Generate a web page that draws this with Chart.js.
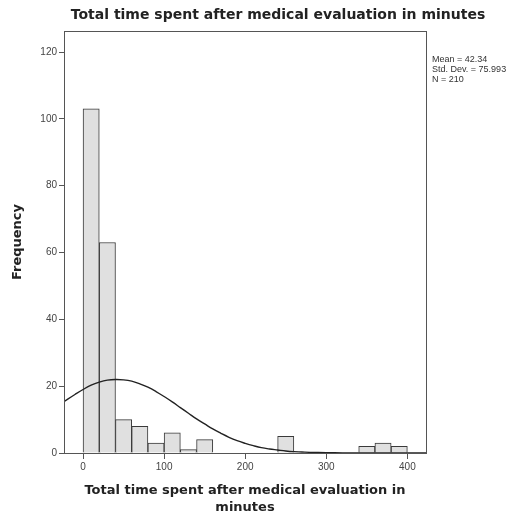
<!DOCTYPE html>
<html>
<head>
<meta charset="utf-8">
<script src="https://cdn.jsdelivr.net/npm/chart.js@4/dist/chart.umd.min.js"></script>
<style>
  body { margin: 0; background: #fff; }
  canvas { display: block; }
</style>
</head>
<body>
<canvas id="histChart" width="532" height="520"></canvas>
<script>
// histogram bins (width 20), centers and counts
const binCenters = [10, 30, 50, 70, 90, 110, 130, 150, 170, 190, 210, 230, 250, 270, 290, 310, 330, 350, 370, 390];
const binCounts = [103, 63, 10, 8, 3, 6, 1, 4, null, null, null, null, 5, null, null, null, null, 2, 3, 2];

// normal curve
const curveX = [-24, -10, 0, 10, 20, 30, 40, 50, 60, 70, 80, 90, 100, 110, 120, 130, 140, 150, 160, 170, 180, 190, 200, 210, 220, 230, 240, 250, 260, 270, 280, 300, 320, 340, 360, 380, 400, 423];
const curveY = [15.3, 17.5, 19.0, 20.3, 21.2, 21.8, 22.0, 21.9, 21.5, 20.7, 19.7, 18.4, 16.9, 15.3, 13.6, 11.9, 10.2, 8.7, 7.2, 5.9, 4.7, 3.7, 2.9, 2.2, 1.6, 1.2, 0.9, 0.6, 0.4, 0.3, 0.2, 0.1, 0.03, 0.01, 0, 0, 0, 0];

const xTicks = [0, 100, 200, 300, 400];
const yTicks = [0, 20, 40, 60, 80, 100, 120];
const chartTitle = "Total time spent after medical evaluation in minutes";
const statsLines = ["Mean = 42.34", "Std. Dev. = 75.993", "N = 210"];

const frameAndText = {
    id: "frameAndText",
    afterDraw(chart) {
        const { ctx, chartArea } = chart;
        ctx.save();
        ctx.strokeStyle = "#555";
        ctx.lineWidth = 1;
        ctx.strokeRect(chartArea.left + 0.5, chartArea.top + 0.5,
            chartArea.right - chartArea.left, chartArea.bottom - chartArea.top);

        ctx.fillStyle = "#222";
        ctx.font = "bold 14px 'DejaVu Sans'";
        ctx.textAlign = "center";
        ctx.textBaseline = "middle";
        ctx.fillText(chartTitle, 278, 15);

        ctx.fillStyle = "#333";
        ctx.font = "9px Arial";
        ctx.textAlign = "left";
        statsLines.forEach((t, i) => ctx.fillText(t, chartArea.right + 6, 60 + i * 10));
        ctx.restore();
    }
};

const ctx = document.getElementById("histChart").getContext("2d");

new Chart(ctx, {
    type: "bar",
    data: {
        datasets: [{
            type: "line",
            data: curveX.map((x, i) => ({ x: x, y: curveY[i] })),
            borderColor: "#222",
            borderWidth: 1.4,
            pointRadius: 0,
            tension: 0.4,
            fill: false,
            order: 0
        }, {
            type: "bar",
            data: binCenters.map((x, i) => ({ x: x, y: binCounts[i] })),
            backgroundColor: "#e0e0e0",
            borderColor: "#3a3a3a",
            borderWidth: 1,
            barPercentage: 1,
            categoryPercentage: 1,
            order: 1
        }]
    },
    options: {
        responsive: false,
        animation: false,
        layout: { padding: { top: 31, right: 106, bottom: 4, left: 10 } },
        plugins: {
            legend: { display: false },
            tooltip: { enabled: false },
            title: { display: false }
        },
        scales: {
            x: {
                type: "linear",
                offset: false,
                min: -23.5,
                max: 423,
                afterBuildTicks: (s) => { s.ticks = xTicks.map(v => ({ value: v })); },
                afterFit: (s) => { s.height = 63; },
                grid: { offset: false, drawOnChartArea: false, drawTicks: true, tickLength: 6, color: "#555" },
                border: { color: "#555" },
                ticks: { color: "#444", font: { family: "Arial", size: 10 }, padding: 2 },
                title: {
                    display: true,
                    text: ["Total time spent after medical evaluation in", "minutes"],
                    color: "#222",
                    font: { family: "DejaVu Sans", size: 13, weight: "bold", lineHeight: 1.3 },
                    padding: { top: 7, bottom: 0 }
                }
            },
            y: {
                min: 0,
                max: 126.3,
                afterBuildTicks: (s) => { s.ticks = yTicks.map(v => ({ value: v })); },
                afterFit: (s) => { s.width = 54; },
                grid: { drawOnChartArea: false, drawTicks: true, tickLength: 5, color: "#555" },
                border: { color: "#555" },
                ticks: { color: "#444", font: { family: "Arial", size: 10 }, padding: 2 },
                title: {
                    display: true,
                    text: "Frequency",
                    color: "#222",
                    font: { family: "DejaVu Sans", size: 13, weight: "bold" },
                    padding: { top: 0, bottom: 4 }
                }
            }
        }
    },
    plugins: [frameAndText]
});
</script>
</body>
</html>
